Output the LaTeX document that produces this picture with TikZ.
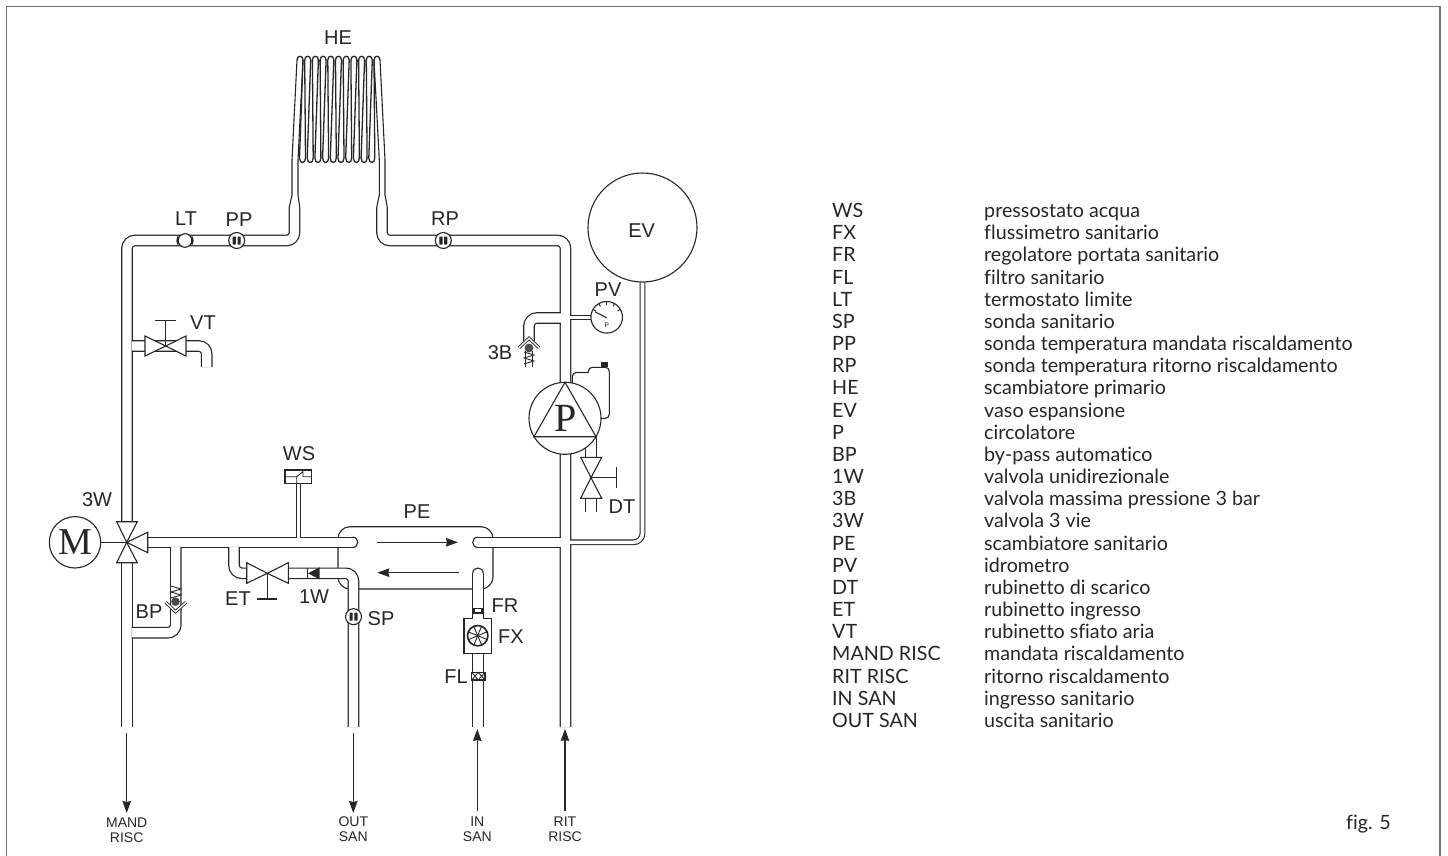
\documentclass[tikz,border=0pt]{standalone}
\usepackage{fontspec}
\usetikzlibrary{arrows.meta}
\newfontfamily\lblfont{Liberation Sans}
\newfontfamily\leggfont[Ligatures=NoCommon]{Lato}
\newfontfamily\simbfont{Liberation Serif}
\tikzset{
 pipe/.style={draw=black!85,line width=1.2pt,double=white,double distance=9.2pt,rounded corners=8pt},
 thinpipe/.style={draw=black!85,line width=1.1pt,double=white,double distance=3.6pt,rounded corners=7pt},
 wire/.style={draw=black!85,line width=1.1pt},
 cover/.style={wire,fill=white},
 flow/.style={draw=black!85,line width=1.1pt,-{Stealth[length=12pt,width=8.5pt,inset=1pt]}},
 lbl/.style={font=\lblfont\fontsize{20}{20}\selectfont,text=black!85,inner sep=0pt},
 small/.style={font=\lblfont\fontsize{14}{15}\selectfont,text=black!85,inner sep=0pt,align=center},
 legg/.style={font=\leggfont\fontsize{19.7}{20}\selectfont,text=black!85,inner sep=0pt,anchor=base west}
}
\begin{document}
\begin{tikzpicture}[x=1pt,y=-1pt]
 \useasboundingbox (0,0) rectangle (1448,856);
 \draw[black!55,line width=1.8pt] (6.5,856)--(6.5,6.5)--(1440,6.5)--(1440,856);
 %scambiatore primario
 \foreach \i in {0,...,10}{
 \pgfmathsetmacro\t{300+7.7*\i}
 \draw[wire,line width=1.3pt] ({\t-3},60) .. controls ({\t-3},55) and ({\t+3},55) .. ({\t+3},60);
 }
 \foreach \i in {0,...,9}{
 \pgfmathsetmacro\t{300+7.7*\i}
 \pgfmathsetmacro\s{302.5+7.7*\i}
 \draw[wire,line width=1.3pt] ({\t+3},60)--({\s-3},158) .. controls ({\s-3},164) and ({\s+3},164) .. ({\s+3},158)--({\t+4.7},60);
 }
 \draw[wire] (297,60)--(292,160)--(292,195)--(289.3,207)
 (303,60)--(298,160)--(298,195)--(299.7,207)
 (380,60)--(385,160)--(385,195)--(387.2,207)
 (374,60)--(379.3,160)--(379.3,195)--(376.8,207);
 %corpo PE
 \draw[cover,rounded corners=12pt] (338,526.7) rectangle (493,589);
 %tubi principali
 \draw[pipe] (127,522)--(127,240.5)--(294.5,240.5)--(294.5,207);
 \draw[pipe] (382,207)--(382,240.5)--(565.5,240.5)--(565.5,727);
 \draw[pipe] (127,562)--(127,727);
 \draw[pipe] (148,542.3)--(352.5,542.3);
 \draw[wire] (352.5,537.1) .. controls (359.5,537.1) and (359.5,547.5) .. (352.5,547.5);
 \draw[pipe] (478,542.3)--(560.9,542.3);
 \draw[wire] (478,537.1) .. controls (471,537.1) and (471,547.5) .. (478,547.5);
 \draw[pipe] (478,573.3)--(478,727);
 \draw[wire] (472.8,573.3) .. controls (472.8,566.3) and (483.2,566.3) .. (483.2,573.3);
 \draw[pipe] (288,573.3)--(353.5,573.3)--(353.5,727);
 %diramazioni
 \draw[pipe] (131.6,346)--(186,346)--(206.7,346)--(206.7,367);
 \draw[pipe] (175.8,546.9)--(175.8,632.7)--(131.6,632.7);
 \draw[pipe] (234,546.9)--(234,573.3)--(247,573.3);
 \draw[pipe] (560.9,318)--(529,318)--(529,341);
 \draw[pipe] (591,430)--(591,458);
 \draw[pipe] (591,498)--(591,511.7);
 \draw[thinpipe] (298.5,483)--(298.5,537.7);
 \draw[thinpipe] (570.1,317.5)--(592,317.5);
 \draw[thinpipe,rounded corners=9pt] (570.1,542.3)--(642.5,542.3)--(642.5,280);
 %vaso EV e idrometro
 \draw[cover] (642.5,227.5) circle (54.5);
 \draw[cover] (606.7,317.3) circle (15.8);
 \foreach \a in {150,120,90,60,30}
 \draw[wire,line width=.9pt] ({606.7+12.5*cos(\a)},{317.3-12.5*sin(\a)})--({606.7+15.8*cos(\a)},{317.3-15.8*sin(\a)});
 \draw[wire] (606.7,317.8)--(595,311.7);
 \node[font=\lblfont\fontsize{6.5}{7}\selectfont,inner sep=0pt] (pv2) at (606.7,325.7) {P};
 %sonde
 \foreach \a/\b in {236.7/240.5,443.3/240.5,353.5/616.7}{
 \draw[cover] (\a,\b) circle (8);
 \fill[black!85,rounded corners=.6pt] (\a-4,\b-4) rectangle (\a-.8,\b+4) (\a+.8,\b-4) rectangle (\a+4,\b+4);
 }
 \draw[wire,line width=2pt] (178.3,236.5) .. controls (177,239) and (177,242) .. (178.3,244.5) (191.7,236.5) .. controls (193,239) and (193,242) .. (191.7,244.5);
 \draw[cover] (185,240.5) circle (6.8);
 %rubinetto VT
 \draw[cover] (145,336)--(165.7,346)--(145,356)--cycle;
 \draw[cover] (186,336)--(165.7,346)--(186,356)--cycle;
 \draw[wire] (165.7,346)--(165.7,320.7) (155,320.7)--(176,320.7);
 %valvola 3W e motore
 \draw[cover] (116.7,521.7)--(126.7,542.3)--(137.3,521.7)--cycle;
 \draw[cover] (116.7,562.7)--(126.7,542.3)--(137.3,562.7)--cycle;
 \draw[cover] (147.7,532.3)--(126.7,542.3)--(147.7,552.7)--cycle;
 \draw[wire] (100.7,542.3)--(126.7,542.3);
 \draw[cover] (75,542.3) circle (25.7);
 \node[font=\simbfont\fontsize{38}{38}\selectfont,text=black!85,inner sep=0pt] (mot) at (75,542.3) {M};
 %by-pass
 \draw[wire,line width=.9pt] (171,586)--(181,589)--(171,592)--(181,595)--(171,598);
 \fill[black!70] (175.5,601.7) circle (4.3);
 \draw[thinpipe,rounded corners=0pt,line width=.9pt,double distance=1.4pt] (165.7,602.3)--(175.5,611.7)--(186,602.3);
 %rubinetto ET e 1W
 \draw[cover] (246.7,562.7)--(267.3,573.3)--(246.7,583.3)--cycle;
 \draw[cover] (288.3,562.7)--(267.3,573.3)--(288.3,583.3)--cycle;
 \draw[wire] (267.3,573.3)--(267.3,599) (257.3,599)--(277.3,599);
 \draw[wire] (307.5,567.5)--(307.5,579);
 \fill[black!85] (319.5,567.3)--(308,573.3)--(319.5,579.3)--cycle;
 %WS
 \draw[cover] (285,470) rectangle (311.7,483.3);
 \draw[wire,line width=.9pt] (285,476.7)--(296.7,476.7)--(303,471.5) (303,470)--(303,476.7)--(311.7,476.7) (296.7,476.7)--(296.7,483.3);
 %PE frecce
 \coordinate (pea) at (376.7,542.3);
 \coordinate (peb) at (458,542.3);
 \coordinate (pec) at (459,572.7);
 \coordinate (ped) at (377.3,572.7);
 \foreach \a/\b in {pea/peb,pec/ped}
 \draw[flow] (\a)--(\b);
 %FR FX FL
 \draw[wire,line width=1.8pt] (472.5,608.5)--(483.5,608.5);
 \draw[wire] (474,609)--(474,613)--(482,613)--(482,609);
 \draw[cover] (473,618.3)--(464,618.3)--(464,653.3)--(491.7,653.3)--(491.7,618.3)--(483,618.3);
 \draw[wire,line width=1.6pt] (477.7,635.7) circle (10.2);
 \foreach \a in {0,45,...,315}
 \draw[wire,line width=.9pt] (477.7,635.7)--({477.7+10*cos(\a+22)},{635.7+10*sin(\a+22)});
 \draw[cover] (471.7,672.3) rectangle (485,680);
 \draw[wire,line width=.9pt] (471.7,672.3)--(478.3,680)--(485,672.3) (471.7,680)--(478.3,672.3)--(485,680);
 %pompa
 \draw[wire,rounded corners=4pt] (572.3,385)--(572.3,372.5)--(588.3,372.5);
 \draw[wire,rounded corners=4pt] (588.3,372.5)--(588.3,367.3)--(609.3,367.3)--(609.3,418.3)--(600,418.3);
 \fill[black!85] (600.7,361.7) rectangle (608,367.3);
 \draw[cover] (565,418.3) circle (36);
 \draw[wire] (565,382.3)--(534,436.7)--(596,436.7)--cycle;
 \node[font=\simbfont\fontsize{40}{40}\selectfont,text=black!85,inner sep=0pt] (pmp) at (565.7,418) {P};
 %rubinetto DT
 \draw[cover] (580.7,457.3)--(591,477.7)--(601.7,457.3)--cycle;
 \draw[cover] (580.7,498.3)--(591,477.7)--(601.7,498.3)--cycle;
 \draw[wire] (591,477.7)--(616.7,477.7) (616.7,467.3)--(616.7,488.3);
 %3B
 \draw[wire,line width=.9pt] (524,352)--(534,355)--(524,358)--(534,361)--(524,364) (525.5,351)--(525.5,367) (532.5,351)--(532.5,367);
 \fill[black!70] (529,348) circle (4.4);
 \draw[thinpipe,rounded corners=0pt,line width=.9pt,double distance=1.4pt] (519,347.7)--(529,338.3)--(539,347.7);
 %frecce esterne
 \coordinate (mand) at (126.7,733);
 \coordinate (mandb) at (126.7,813);
 \coordinate (out) at (353.3,733);
 \coordinate (outb) at (353.3,813);
 \coordinate (ing) at (477.3,811);
 \coordinate (ingb) at (477.3,729);
 \coordinate (rit) at (565,811);
 \coordinate (ritb) at (565,729);
 \foreach \a/\b in {mand/mandb,out/outb,ing/ingb,rit/ritb}
 \draw[flow] (\a)--(\b);
 \path
 (338,38) node[lbl] (he) {HE}
 (186,219) node[lbl] (lt) {LT}
 (239,220) node[lbl] (pp) {PP}
 (445,219) node[lbl] (rp) {RP}
 (203,323) node[lbl] (vt) {VT}
 (641.7,231) node[lbl] (ev) {EV}
 (608,290) node[lbl] (pv) {PV}
 (500,353) node[lbl] (tb) {3B}
 (622,507) node[lbl] (dt) {DT}
 (299,454) node[lbl] (ws) {WS}
 (97,500) node[lbl] (tw) {3W}
 (149,612) node[lbl] (bp) {BP}
 (238,599) node[lbl] (et) {ET}
 (314,597) node[lbl] (uw) {1W}
 (417,512) node[lbl] (pe) {PE}
 (505,606) node[lbl] (fr) {FR}
 (511,637) node[lbl] (fx) {FX}
 (456,677) node[lbl] (fl) {FL}
 (381,619) node[lbl] (sp) {SP}
 (126.7,830.5) node[small] (lmand) {MAND\\RISC}
 (353.3,829) node[small] (lout) {OUT\\SAN}
 (477.3,829) node[small] (lin) {IN\\SAN}
 (565,829) node[small] (lrit) {RIT\\RISC}
 (1368.5,829.5) node[legg,anchor=base] (fig) {fig. 5};
 %legenda
 \foreach \a/\b [count=\i from 0] in {WS/pressostato acqua,FX/flussimetro sanitario,FR/regolatore portata sanitario,FL/filtro sanitario,LT/termostato limite,SP/sonda sanitario,PP/sonda temperatura mandata riscaldamento,RP/sonda temperatura ritorno riscaldamento,HE/scambiatore primario,EV/vaso espansione,P/circolatore,BP/by-pass automatico,1W/valvola unidirezionale,3B/valvola massima pressione 3 bar,3W/valvola 3 vie,PE/scambiatore sanitario,PV/idrometro,DT/rubinetto di scarico,ET/rubinetto ingresso,VT/rubinetto sfiato aria,MAND RISC/mandata riscaldamento,RIT RISC/ritorno riscaldamento,IN SAN/ingresso sanitario,OUT SAN/uscita sanitario}{
 \path (832,{217.5+22.17*\i}) node[legg] (k\i) {\a}
 (984,{217.5+22.17*\i}) node[legg] (v\i) {\b};
 }
\end{tikzpicture}
\end{document}
